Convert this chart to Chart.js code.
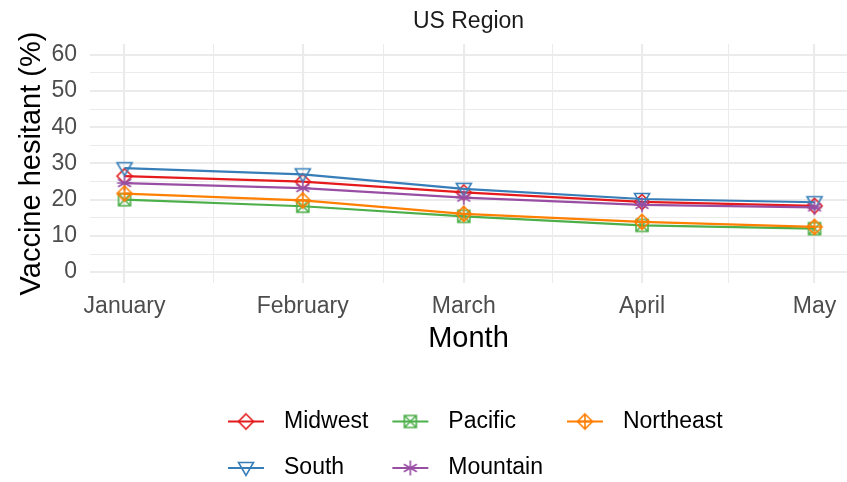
<!DOCTYPE html>
<html>
<head>
<meta charset="utf-8">
<script src="https://cdn.jsdelivr.net/npm/chart.js@4.4.0/dist/chart.umd.min.js"></script>
<style>
  html, body { margin: 0; padding: 0; background: #fff; overflow: hidden; }
  #myChart { display: block; }
</style>
</head>
<body>
<canvas id="myChart" width="847" height="482"></canvas>
<script>
// months on a day-of-year axis (first of each month)
var months = ['January', 'February', 'March', 'April', 'May'];
var monthDays = [0, 31, 59, 90, 120];
var minorDays = [15.5, 45, 74.5, 105];
var yMajor = [0, 10, 20, 30, 40, 50, 60];
var yMinor = [5, 15, 25, 35, 45, 55];

// vaccine hesitant (%) by region
var midwest   = [26.5, 25.0, 22.0, 19.4, 18.3];
var south     = [28.7, 27.0, 23.0, 20.2, 19.3];
var pacific   = [20.0, 18.2, 15.4, 12.9, 12.0];
var mountain  = [24.6, 23.2, 20.6, 18.6, 17.9];
var northeast = [21.7, 19.8, 16.1, 13.9, 12.5];

var FONT = '"Liberation Sans", Arial, Helvetica, sans-serif';
Chart.defaults.font.family = FONT;

function marker(color, draw) {
  var cv = document.createElement('canvas');
  cv.width = 20; cv.height = 20;
  var g = cv.getContext('2d');
  g.strokeStyle = color;
  g.lineWidth = 1.6;
  g.translate(10, 10);
  g.beginPath();
  draw(g);
  g.stroke();
  return cv;
}

function diamond(g) {
  g.moveTo(0, -7.5); g.lineTo(7.5, 0); g.lineTo(0, 7.5); g.lineTo(-7.5, 0); g.closePath();
}

var shapes = {
  midwest: marker('#E41A1C', diamond),
  south: marker('#377EB8', function (g) {
    g.moveTo(-7.5, -5.5); g.lineTo(7.5, -5.5); g.lineTo(0, 7.5); g.closePath();
  }),
  pacific: marker('#4DAF4A', function (g) {
    g.rect(-6, -6, 12, 12);
    g.moveTo(-6, -6); g.lineTo(6, 6);
    g.moveTo(6, -6); g.lineTo(-6, 6);
  }),
  mountain: marker('#984EA3', function (g) {
    g.moveTo(0, -7.5); g.lineTo(0, 7.5);
    g.moveTo(-6.5, -3.75); g.lineTo(6.5, 3.75);
    g.moveTo(-6.5, 3.75); g.lineTo(6.5, -3.75);
    g.moveTo(-7.5, 0); g.lineTo(7.5, 0);
  }),
  northeast: marker('#FF7F00', function (g) {
    diamond(g);
    g.moveTo(0, -7.5); g.lineTo(0, 7.5);
    g.moveTo(-7.5, 0); g.lineTo(7.5, 0);
  })
};

function pts(vals) {
  return vals.map(function (v, i) { return { x: monthDays[i], y: v }; });
}

function series(label, vals, color, shape, order) {
  return {
    label: label,
    data: pts(vals),
    borderColor: color,
    backgroundColor: color,
    borderWidth: 2.2,
    pointStyle: shape,
    pointRadius: 7,
    pointHoverRadius: 7,
    tension: 0,
    order: order
  };
}

// legend laid out in columns like ggplot (filled by column, 2 rows)
var gridLegend = {
  id: 'gridLegend',
  afterDraw: function (chart) {
    var c = chart.ctx;
    var ds = chart.data.datasets;
    var rowsY = [421.5, 468];
    var x = 228;
    c.save();
    c.font = '23px ' + FONT;
    for (var col = 0; col < 3; col++) {
      var maxW = 0;
      for (var row = 0; row < 2; row++) {
        var i = col * 2 + row;
        if (i >= ds.length) continue;
        var d = ds[i], y = rowsY[row];
        c.strokeStyle = d.borderColor;
        c.lineWidth = d.borderWidth;
        c.beginPath(); c.moveTo(x, y); c.lineTo(x + 36, y); c.stroke();
        c.drawImage(d.pointStyle, x + 18 - 10, y - 10);
        c.fillStyle = '#000';
        c.textBaseline = 'middle';
        c.textAlign = 'left';
        c.fillText(d.label, x + 56, y);
        maxW = Math.max(maxW, c.measureText(d.label).width);
      }
      x += 56 + maxW + 24;
    }
    c.restore();
  }
};

var ctx = document.getElementById('myChart').getContext('2d');
var myChart = new Chart(ctx, {
  type: 'line',
  data: {
    datasets: [
      series('Midwest', midwest, '#E41A1C', shapes.midwest, 4),
      series('South', south, '#377EB8', shapes.south, 3),
      series('Pacific', pacific, '#4DAF4A', shapes.pacific, 2),
      series('Mountain', mountain, '#984EA3', shapes.mountain, 1),
      series('Northeast', northeast, '#FF7F00', shapes.northeast, 0)
    ]
  },
  options: {
    responsive: false,
    animation: false,
    layout: { autoPadding: false, padding: { left: 15, right: 0, top: 0, bottom: 126 } },
    plugins: {
      legend: { display: false },
      tooltip: { enabled: false },
      title: {
        display: true,
        fullSize: false,
        text: 'US Region',
        color: '#1A1A1A',
        font: { size: 23, weight: 'normal' },
        padding: { top: 8, bottom: 8.4 }
      }
    },
    scales: {
      x: {
        type: 'linear',
        min: -6,
        max: 125.65,
        afterBuildTicks: function (scale) {
          scale.ticks = monthDays.concat(minorDays).sort(function (a, b) { return a - b; })
            .map(function (v) { return { value: v }; });
        },
        afterFit: function (scale) {
          scale.height = 73;
          scale.paddingLeft = 0;
          scale.paddingRight = 0;
        },
        ticks: {
          autoSkip: false,
          maxRotation: 0,
          padding: 10,
          color: '#4D4D4D',
          font: { size: 23 },
          callback: function (v) {
            var i = monthDays.indexOf(v);
            return i >= 0 ? months[i] : '';
          }
        },
        grid: {
          color: '#EBEBEB',
          drawTicks: false,
          lineWidth: function (c) {
            return c.tick && monthDays.indexOf(c.tick.value) >= 0 ? 2.1 : 1.05;
          }
        },
        border: { display: false },
        title: { display: true, text: 'Month', color: '#000', font: { size: 29 }, padding: 0 }
      },
      y: {
        min: -3,
        max: 63,
        afterBuildTicks: function (scale) {
          scale.ticks = yMajor.concat(yMinor).sort(function (a, b) { return a - b; })
            .map(function (v) { return { value: v }; });
        },
        afterFit: function (scale) {
          scale.width = 75;
          scale.paddingTop = 0;
          scale.paddingBottom = 0;
        },
        ticks: {
          autoSkip: false,
          padding: 13,
          color: '#4D4D4D',
          font: { size: 23 },
          callback: function (v) { return yMajor.indexOf(v) >= 0 ? String(v) : ''; }
        },
        grid: {
          color: '#EBEBEB',
          drawTicks: false,
          lineWidth: function (c) {
            return c.tick && yMajor.indexOf(c.tick.value) >= 0 ? 2.1 : 1.05;
          }
        },
        border: { display: false },
        title: { display: true, text: 'Vaccine hesitant (%)', color: '#000', font: { size: 29 }, padding: 0 }
      }
    }
  },
  plugins: [gridLegend]
});
</script>
</body>
</html>
